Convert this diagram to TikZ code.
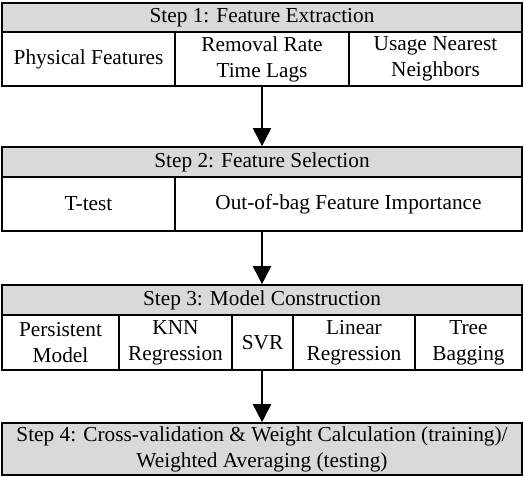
\documentclass[tikz,border=0pt]{standalone}
\usepackage{fontspec}
\setmainfont{Liberation Serif}
\usetikzlibrary{arrows.meta, positioning}
\definecolor{headgray}{RGB}{217,217,217}
\tikzset{
    box/.style={draw, line width=1.6pt, rectangle, inner sep=0pt, align=center,
        font=\fontsize{21.3}{26}\selectfont},
    head/.style={box, fill=headgray},
    cell/.style={box, fill=white},
    flow/.style={line width=1.8pt, -{Triangle[length=18pt, width=18pt]}}
}
\begin{document}
\begin{tikzpicture}[x=1pt, y=-1pt]
    \useasboundingbox (0,0) rectangle (524,478);
    % step 1
    \node[head, minimum width=520pt, minimum height=29pt] (s1h) at (262,17.5) {Step 1: Feature Extraction};
    \node[cell, minimum width=173pt, minimum height=54pt] (s1a) at (88.5,59) {Physical Features};
    \node[cell, minimum width=174pt, minimum height=54pt] (s1b) at (262,59) {Removal Rate\\Time Lags};
    \node[cell, minimum width=173pt, minimum height=54pt] (s1c) at (435.5,59) {Usage Nearest\\Neighbors};
    % step 2
    \node[head, minimum width=520pt, minimum height=30pt] (s2h) at (262,162) {Step 2: Feature Selection};
    \node[cell, minimum width=173pt, minimum height=54pt] (s2a) at (88.5,204) {T-test};
    \node[cell, minimum width=347pt, minimum height=54pt] (s2b) at (348.5,204) {Out-of-bag Feature Importance};
    % step 3
    \node[head, minimum width=520pt, minimum height=30pt] (s3h) at (262,300) {Step 3: Model Construction};
    \node[cell, minimum width=117pt, minimum height=55pt] (s3a) at (60.5,342.5) {Persistent\\Model};
    \node[cell, minimum width=113pt, minimum height=55pt] (s3b) at (175.5,342.5) {KNN\\Regression};
    \node[cell, minimum width=61pt, minimum height=55pt] (s3c) at (262.5,342.5) {SVR};
    \node[cell, minimum width=122pt, minimum height=55pt] (s3d) at (354,342.5) {Linear\\Regression};
    \node[cell, minimum width=107pt, minimum height=55pt] (s3e) at (468.5,342.5) {Tree\\Bagging};
    % step 4
    \node[head, minimum width=520pt, minimum height=52pt] (s4) at (262,449) {Step 4: Cross-validation \& Weight Calculation (training)/\\Weighted Averaging (testing)};
    % arrows
    \draw[flow] (s1b.south) -- (s2h.north);
    \draw[flow] (s2h.north |- s2b.south) -- (s3h.north);
    \draw[flow] (s3h.north |- s3c.south) -- (s4.north);
\end{tikzpicture}
\end{document}
